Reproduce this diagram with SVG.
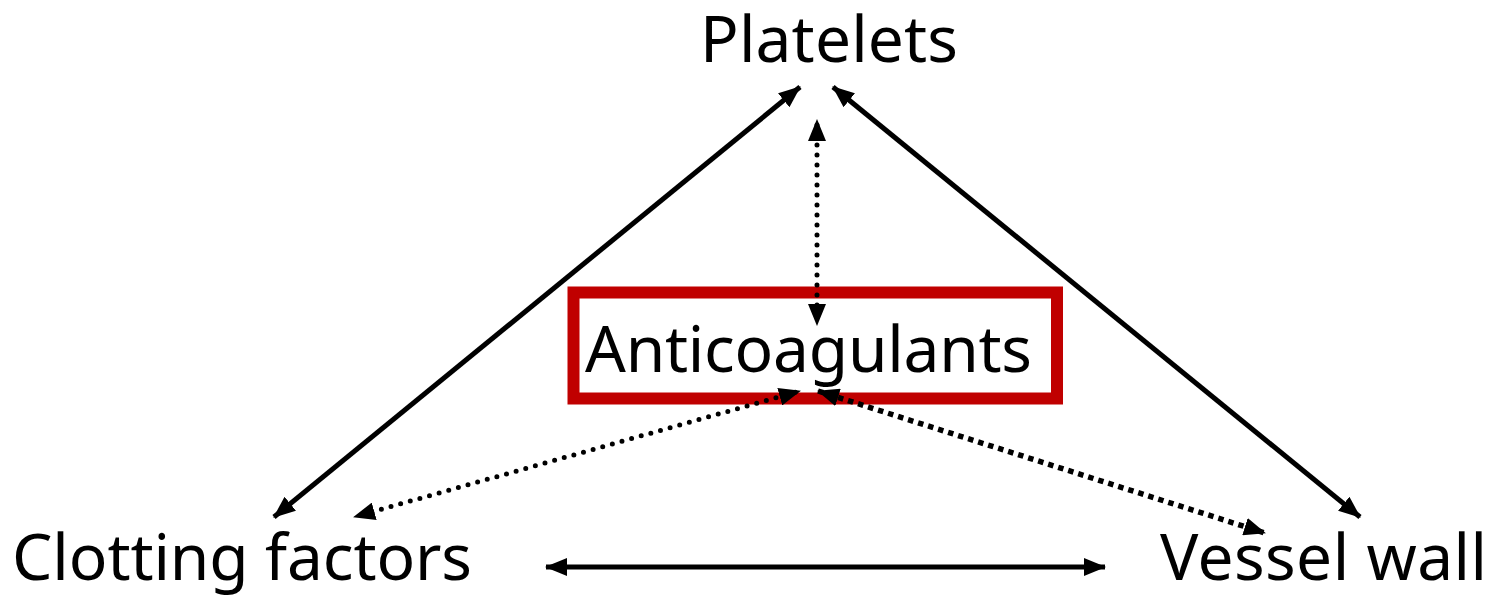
<svg xmlns="http://www.w3.org/2000/svg" width="1494" height="595" viewBox="0 0 1494 595">
<defs>
<style>
.lbl{font-family:"Noto Sans","Open Sans",sans-serif;fill:#000}
.solid{stroke:#000;stroke-width:5;fill:none}
.dot{stroke:#000;stroke-width:5;fill:none;stroke-dasharray:0 10;stroke-dashoffset:-15;stroke-linecap:round}
.sq{stroke:#000;stroke-width:5.5;fill:none;stroke-dasharray:5.5 5}
</style>
<marker id="ah" viewBox="0 0 22 18" refX="21" refY="9" markerWidth="22" markerHeight="18" markerUnits="userSpaceOnUse" orient="auto-start-reverse">
<path d="M0,0 L22,9 L0,18 Z" fill="#000"/>
</marker>
</defs>
<rect width="1494" height="595" fill="#fff"/>
<g id="connectors">
<line class="solid" x1="800" y1="87" x2="274" y2="517" marker-start="url(#ah)" marker-end="url(#ah)"/>
<line class="solid" x1="833" y1="87" x2="1360" y2="517" marker-start="url(#ah)" marker-end="url(#ah)"/>
<line class="solid" x1="546" y1="567" x2="1105" y2="567" marker-start="url(#ah)" marker-end="url(#ah)"/>
</g>
<g id="anticoagulants">
<rect x="573.5" y="292.5" width="483.5" height="106" fill="#fff" stroke="#C00000" stroke-width="12"/>
<text class="lbl" x="585" y="372" font-size="64" textLength="447" lengthAdjust="spacing">Anticoagulants</text>
</g>
<g id="dotted-connectors">
<line class="dot" x1="817" y1="120" x2="817" y2="325" marker-start="url(#ah)" marker-end="url(#ah)"/>
<line class="dot" x1="800" y1="391" x2="354" y2="517" marker-start="url(#ah)" marker-end="url(#ah)"/>
<line class="sq" x1="818" y1="391" x2="1265" y2="533" marker-start="url(#ah)" marker-end="url(#ah)"/>
</g>
<g id="platelets">
<text class="lbl" x="700" y="62" font-size="64" textLength="258" lengthAdjust="spacing">Platelets</text>
</g>
<g id="clotting-factors">
<text class="lbl" x="12" y="580" font-size="64" textLength="460" lengthAdjust="spacing">Clotting factors</text>
</g>
<g id="vessel-wall">
<text class="lbl" x="1160" y="580" font-size="64" textLength="327" lengthAdjust="spacing">Vessel wall</text>
</g>
</svg>
